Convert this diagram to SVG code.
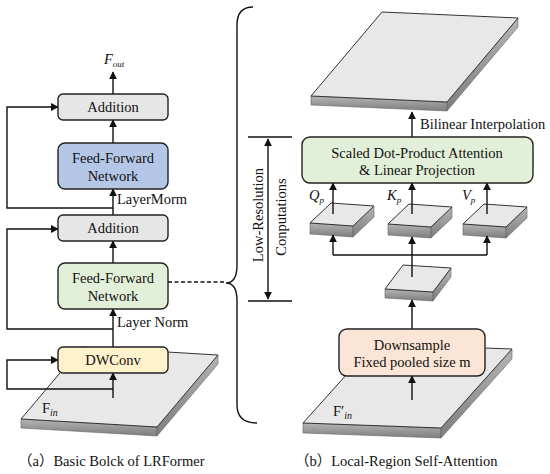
<svg xmlns="http://www.w3.org/2000/svg" width="550" height="474" viewBox="0 0 550 474" font-family="'Liberation Serif', 'DejaVu Serif', 'Times New Roman', serif">
<defs>
  <marker id="ah" viewBox="0 0 10 10" refX="9" refY="5" markerWidth="8" markerHeight="8" markerUnits="userSpaceOnUse" orient="auto-start-reverse">
    <path d="M0,0 L10,5 L0,10 z" fill="#111"/>
  </marker>
  <linearGradient id="side" x1="0" y1="0" x2="0" y2="1">
    <stop offset="0" stop-color="#b5b5b5"/>
    <stop offset="1" stop-color="#7d7d7d"/>
  </linearGradient>
  <style>
    .box{stroke:#222;stroke-width:1.4}
    .gray{fill:#e7e6e6}
    .blue{fill:#b4c7e7}
    .green{fill:#e2f0d9}
    .yellow{fill:#fff2cc}
    .peach{fill:#fbe5d6}
    .ln{fill:none;stroke:#111;stroke-width:1.4}
    .arr{fill:none;stroke:#111;stroke-width:1.4;marker-end:url(#ah)}
    .top{fill:#e8e8e8;stroke:#333;stroke-width:1}
    .sd{fill:url(#side);stroke:#666;stroke-width:0.6}
    text{font-family:'Liberation Serif','DejaVu Serif','Times New Roman',serif;font-size:14.5px;fill:#111}
    .c{text-anchor:middle}
    .it{font-style:italic}
    text.cap{font-family:'Liberation Serif','Noto Sans CJK SC',serif}
  </style>
</defs>

<!-- slabs -->
<g id="slab-fin">
  <polygon class="sd" points="21,419 157,427 157,436 21,428"/>
  <polygon class="sd" points="157,427 218,355 218,364 157,436"/>
  <polygon class="top" points="21,419 157,427 218,355 82,347"/>
</g>
<g id="slab-fin2">
  <polygon class="sd" points="303,423 441,428 441,438 303,433"/>
  <polygon class="sd" points="441,428 512,349 512,359 441,438"/>
  <polygon class="top" points="303,423 441,428 512,349 374,344"/>
</g>
<g id="slab-out">
  <polygon class="sd" points="311,96 447,102 447,111 311,105"/>
  <polygon class="sd" points="447,102 518,18 518,27 447,111"/>
  <polygon class="top" points="311,96 447,102 518,18 382,12"/>
</g>
<g id="slab-q">
  <polygon class="sd" points="310,223 353,226 353,237 310,234"/>
  <polygon class="sd" points="353,226 374,206 374,217 353,237"/>
  <polygon class="top" points="310,223 353,226 374,206 331,203"/>
</g>
<g id="slab-k">
  <polygon class="sd" points="388,224 431,227 431,238 388,235"/>
  <polygon class="sd" points="431,227 452,207 452,218 431,238"/>
  <polygon class="top" points="388,224 431,227 452,207 409,204"/>
</g>
<g id="slab-v">
  <polygon class="sd" points="463,224 506,227 506,238 463,235"/>
  <polygon class="sd" points="506,227 527,207 527,218 506,238"/>
  <polygon class="top" points="463,224 506,227 527,207 484,204"/>
</g>
<g id="slab-mid">
  <polygon class="sd" points="385,289 433,292 433,301 385,298"/>
  <polygon class="sd" points="433,292 451,268 451,277 433,301"/>
  <polygon class="top" points="385,289 433,292 451,268 403,265"/>
</g>

<!-- connectors -->
<g id="connectors">
  <line class="arr" x1="113" y1="94" x2="113" y2="72"/>
  <line class="arr" x1="113" y1="143" x2="113" y2="120"/>
  <line class="arr" x1="113" y1="215" x2="113" y2="189"/>
  <polyline class="arr" points="113,208 7,208 7,107 58,107"/>
  <line class="arr" x1="113" y1="263" x2="113" y2="241"/>
  <line class="arr" x1="113" y1="347" x2="113" y2="309"/>
  <polyline class="arr" points="113,329 7,329 7,229 58,229"/>
  <line class="arr" x1="113" y1="398" x2="113" y2="373"/>
  <polyline class="arr" points="113,389 7,389 7,360 58,360"/>
  <line class="ln" x1="168" y1="282" x2="226" y2="282" stroke-dasharray="4,2.5"/>
  <path class="ln" d="M253,7 Q237,7 237,25 L237,265 Q237,283 226,283 Q237,283 237,301 L237,405 Q237,423 257,423"/>
  <line class="ln" x1="248" y1="137" x2="292" y2="137"/>
  <line class="ln" x1="248" y1="301" x2="292" y2="301"/>
  <line class="ln" x1="268" y1="139" x2="268" y2="299" marker-start="url(#ah)" marker-end="url(#ah)"/>
  <line class="arr" x1="412" y1="137" x2="412" y2="112"/>
  <line class="arr" x1="333" y1="214" x2="333" y2="183"/>
  <line class="arr" x1="412" y1="214" x2="412" y2="183"/>
  <line class="arr" x1="487" y1="214" x2="487" y2="183"/>
  <line class="arr" x1="412" y1="277" x2="412" y2="237"/>
  <polyline class="ln" points="333,255 487,255"/>
  <line class="arr" x1="333" y1="255" x2="333" y2="235"/>
  <line class="arr" x1="487" y1="255" x2="487" y2="236"/>
  <line class="arr" x1="412" y1="329" x2="412" y2="300"/>
  <line class="arr" x1="412" y1="400" x2="412" y2="376"/>
</g>

<!-- nodes left -->
<g id="add-top">
  <rect class="box gray" x="58" y="94" width="110" height="26" rx="5"/>
  <text class="c" x="113" y="112">Addition</text>
</g>
<g id="ffn-blue">
  <rect class="box blue" x="58" y="143" width="110" height="46" rx="7"/>
  <text class="c" x="113" y="163">Feed-Forward</text>
  <text class="c" x="113" y="181">Network</text>
</g>
<g id="add-mid">
  <rect class="box gray" x="58" y="215" width="110" height="26" rx="5"/>
  <text class="c" x="113" y="233">Addition</text>
</g>
<g id="ffn-green">
  <rect class="box green" x="58" y="263" width="110" height="46" rx="7"/>
  <text class="c" x="113" y="283">Feed-Forward</text>
  <text class="c" x="113" y="301">Network</text>
</g>
<g id="dwconv">
  <rect class="box yellow" x="58" y="347" width="110" height="26" rx="5"/>
  <text class="c" x="113" y="365">DWConv</text>
</g>
<g id="labels-left">
  <text x="104" y="64" class="it" font-size="16">F<tspan font-size="9" dy="3">out</tspan></text>
  <text x="117" y="204">LayerMorm</text>
  <text x="117" y="327">Layer Norm</text>
  <text x="42" y="413" font-size="16">F<tspan class="it" font-size="10" dy="3">in</tspan></text>
  <text class="cap" x="18" y="466">（a）Basic Bolck of LRFormer</text>
</g>

<!-- nodes right -->
<g id="sdpa">
  <rect class="box green" x="302" y="137" width="231" height="46" rx="8"/>
  <text class="c" x="417" y="158">Scaled Dot-Product Attention</text>
  <text class="c" x="417" y="175">&amp; Linear Projection</text>
</g>
<g id="downsample">
  <rect class="box peach" x="339" y="329" width="146" height="47" rx="8"/>
  <text class="c" x="412" y="350">Downsample</text>
  <text class="c" x="412" y="367">Fixed pooled size m</text>
</g>
<g id="labels-right">
  <text x="420" y="129">Bilinear Interpolation</text>
  <text x="309" y="200" class="it">Q<tspan font-size="9" dy="3">p</tspan></text>
  <text x="387" y="200" class="it">K<tspan font-size="9" dy="3">p</tspan></text>
  <text x="462" y="200" class="it">V<tspan font-size="9" dy="3">p</tspan></text>
  <text x="333" y="416" font-size="16">F′<tspan class="it" font-size="10" dy="3">in</tspan></text>
  <text class="c" transform="translate(263,215) rotate(-90)">Low-Resolution</text>
  <text class="c" transform="translate(286,217) rotate(-90)">Conputations</text>
  <text class="cap" x="295" y="466">（b）Local-Region Self-Attention</text>
</g>
</svg>
